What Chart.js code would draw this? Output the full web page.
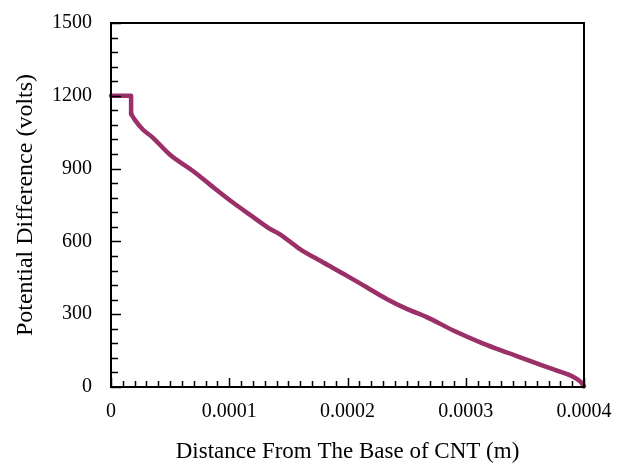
<!DOCTYPE html>
<html>
<head>
<meta charset="utf-8">
<script src="https://cdn.jsdelivr.net/npm/chart.js@4"></script>
<style>
  html, body { margin: 0; padding: 0; background: #fff; }
  #wrap { width: 636px; height: 466px; }
</style>
</head>
<body>
<div id="wrap"><canvas id="myChart" width="636" height="466"></canvas></div>
<script>
// step at the base (m, V)
const stepDistance = [0, 0.000017, 0.000017];
const stepPotential = [1200, 1200, 1125];

// falling part of the curve (m, V)
const distance = [0.000017, 0.0000203, 0.0000273, 0.0000344, 0.0000499, 0.0000696,
  0.0000837, 0.0001034, 0.0001203, 0.000133, 0.0001429, 0.0001598, 0.0001795, 0.0001993,
  0.0002162, 0.0002331, 0.0002501, 0.000267, 0.0002895, 0.0003148, 0.0003374, 0.00036,
  0.0003797, 0.00039, 0.000397, 0.0004];
const potential = [1125, 1100, 1059, 1032, 957, 889,
  834, 759, 700, 656, 629, 568, 513, 459,
  411, 363, 322, 288, 233, 179, 138, 97,
  63, 44, 22, 3];

const xTicks = [0, 0.0001, 0.0002, 0.0003, 0.0004];
const xTickLabels = ["0", "0.0001", "0.0002", "0.0003", "0.0004"];
const yTicks = [0, 300, 600, 900, 1200, 1500];
const yTickLabels = ["0", "300", "600", "900", "1200", "1500"];

const xTitle = "Distance From The Base of CNT (m)";
const yTitle = "Potential Difference (volts)";
const lineColor = "#9b2f67";

// frame plus inward major / minor ticks
const frameTicks = {
  id: "frameTicks",
  afterDraw: (chart) => {
    const ctx = chart.ctx;
    const a = chart.chartArea;
    const xs = chart.scales.x;
    const ys = chart.scales.y;
    ctx.save();
    ctx.strokeStyle = "#000";
    ctx.lineWidth = 1.5;
    for (let i = 0; i <= 40; i++) {
      const px = Math.round(xs.getPixelForValue(i * 0.00001)) + 0.5;
      const len = i % 10 === 0 ? 9 : 6;
      ctx.beginPath();
      ctx.moveTo(px, a.bottom);
      ctx.lineTo(px, a.bottom - len);
      ctx.stroke();
    }
    for (let i = 0; i <= 25; i++) {
      const py = Math.round(ys.getPixelForValue(i * 60)) + 0.5;
      const len = i % 5 === 0 ? 10 : 7;
      ctx.beginPath();
      ctx.moveTo(a.left, py);
      ctx.lineTo(a.left + len, py);
      ctx.stroke();
    }
    ctx.lineWidth = 2;
    ctx.strokeRect(a.left, a.top, a.right - a.left, a.bottom - a.top);
    ctx.restore();
  }
};

const lineStyle = {
  borderColor: lineColor,
  borderWidth: 4.5,
  borderCapStyle: "round",
  borderJoinStyle: "round",
  pointRadius: 0,
  clip: false
};

const ctx = document.getElementById("myChart").getContext("2d");
const myChart = new Chart(ctx, {
  type: "line",
  data: {
    datasets: [
      Object.assign({
        data: stepDistance.map((d, i) => ({ x: d, y: stepPotential[i] })),
        tension: 0
      }, lineStyle),
      Object.assign({
        data: distance.map((d, i) => ({ x: d, y: potential[i] })),
        cubicInterpolationMode: "monotone"
      }, lineStyle)
    ]
  },
  options: {
    responsive: false,
    animation: false,
    layout: { padding: { top: 9, right: 52, left: 0, bottom: 0 } },
    plugins: { legend: { display: false }, tooltip: { enabled: false } },
    scales: {
      x: {
        type: "linear",
        min: 0,
        max: 0.0004,
        afterBuildTicks: (scale) => { scale.ticks = xTicks.map(v => ({ value: v })); },
        afterFit: (scale) => { scale.height = 79; },
        grid: { display: false },
        border: { display: false },
        ticks: {
          color: "#000",
          padding: 5,
          maxRotation: 0,
          font: { family: "Liberation Serif", size: 20 },
          callback: (v, i) => xTickLabels[i]
        },
        title: {
          display: true,
          text: xTitle,
          color: "#000",
          padding: { top: 0, bottom: 0 },
          font: { family: "Liberation Serif", size: 23 }
        }
      },
      y: {
        type: "linear",
        min: 0,
        max: 1500,
        afterBuildTicks: (scale) => { scale.ticks = yTicks.map(v => ({ value: v })); },
        afterFit: (scale) => { scale.width = 111; },
        grid: { display: false },
        border: { display: false },
        ticks: {
          color: "#000",
          padding: 11,
          font: { family: "Liberation Serif", size: 20 },
          callback: (v, i) => yTickLabels[i]
        },
        title: {
          display: true,
          text: yTitle,
          color: "#000",
          padding: { top: 11, bottom: 0 },
          font: { family: "Liberation Serif", size: 24 }
        }
      }
    }
  },
  plugins: [frameTicks]
});
</script>
</body>
</html>
